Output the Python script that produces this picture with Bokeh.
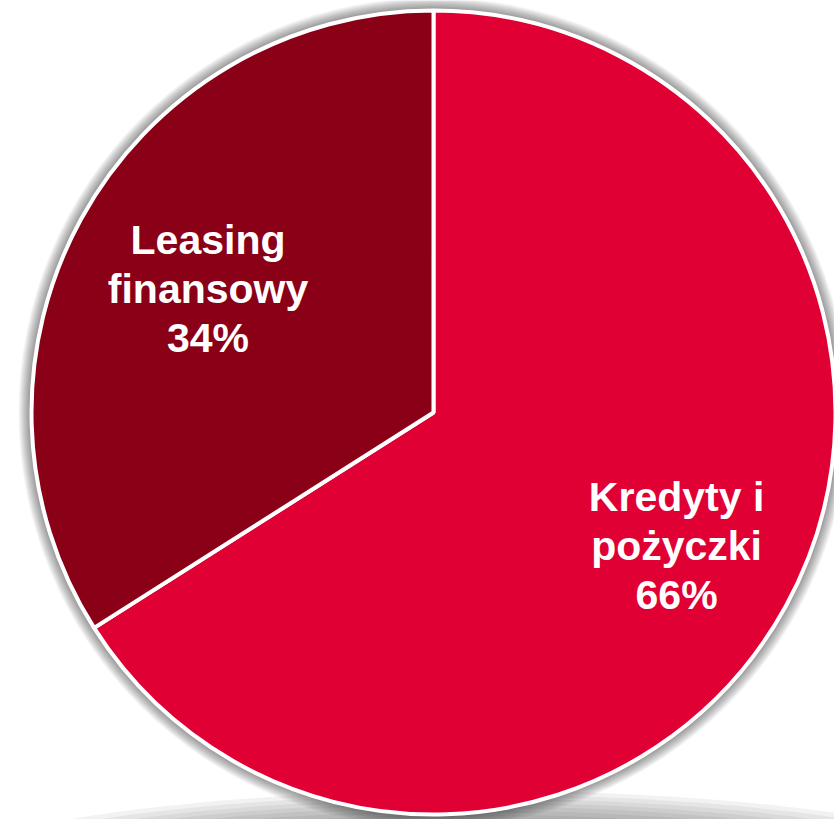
import math
from bokeh.plotting import figure
from bokeh.models import ColumnDataSource
from bokeh.embed import file_html
from bokeh.resources import INLINE
from bokeh.core.properties import value

# ---- data ----
categories = ["Kredyty i pożyczki", "Leasing finansowy"]
values = [66, 34]
label_lines = [["Kredyty i", "pożyczki"], ["Leasing", "finansowy"]]
colors = ["#E00034", "#8A0017"]

# ---- geometry (figure pixels) ----
W, H = 834, 819
PX = 400.0                 # pixels per data unit
CX_PX, CY_PX = 433, 412    # pie centre, pixels from figure top-left
R = 402 / PX               # pie radius (data units)
LABEL_R = [0.69, 0.64]     # label distance, fraction of radius
LINE_STEP = 49 / PX        # line spacing of labels

p = figure(width=W, height=H,
           x_range=(-CX_PX / PX, (W - CX_PX) / PX),
           y_range=(-(H - CY_PX) / PX, CY_PX / PX),
           output_backend="svg", toolbar_location=None, min_border=0,
           x_axis_location=None, y_axis_location=None,
           background_fill_color="white", border_fill_color="white")
p.grid.visible = False
p.outline_line_color = None

# soft shadow band below the pie
band = ColumnDataSource(dict(
    x=[0.1] * 10,
    y=[-1.22] * 10,
    w=[3.0 - 0.09 * k for k in range(10)],
    h=[0.55 - 0.02 * k for k in range(10)],
))
p.ellipse(x="x", y="y", width="w", height="h", source=band,
          fill_color="black", fill_alpha=0.05, line_color=None)

# soft shadow ring around the pie
ring = ColumnDataSource(dict(
    r=[(402 + 2 + 11 - k) / PX for k in range(11)],
))
p.circle(x=0, y=0, radius="r", source=ring,
         fill_color="black", fill_alpha=0.04, line_color=None)

# wedges, clockwise from 12 o'clock
total = float(sum(values))
starts, ends = [], []
a = math.pi / 2
for v in values:
    starts.append(a)
    a -= 2 * math.pi * v / total
    ends.append(a)

src = ColumnDataSource(dict(cat=categories, val=values, start=starts,
                            end=ends, color=colors))
p.wedge(x=0, y=0, radius=R, start_angle="start", end_angle="end",
        direction="clock", fill_color="color", line_color="white",
        line_width=4, source=src)

# labels
tx, ty, tt = [], [], []
for i, v in enumerate(values):
    mid = (starts[i] + ends[i]) / 2
    cx = LABEL_R[i] * R * math.cos(mid)
    cy = LABEL_R[i] * R * math.sin(mid)
    lines = label_lines[i] + [f"{v}%"]
    for k, line in enumerate(lines):
        tx.append(cx)
        ty.append(cy - (k - 1) * LINE_STEP)
        tt.append(line)

lab = ColumnDataSource(dict(x=tx, y=ty, t=tt))
p.text(x="x", y="y", text="t", source=lab, text_color="white",
       text_font=value("Liberation Sans"), text_font_style="bold",
       text_font_size="41px", text_align="center", text_baseline="middle")

open("out.html", "w").write(file_html(p, INLINE))
